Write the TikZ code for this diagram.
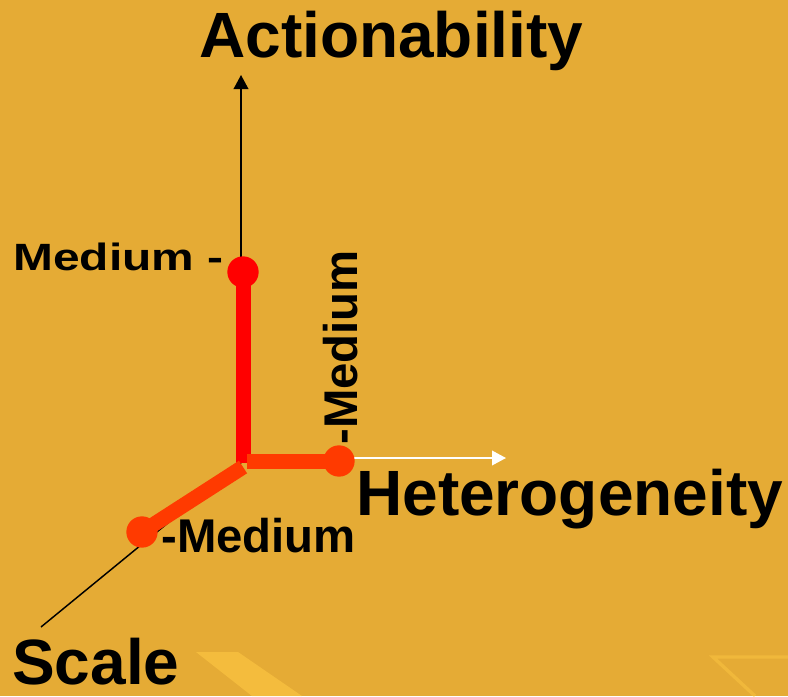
\documentclass[tikz,border=0pt]{standalone}
\usepackage{fontspec}
\setmainfont{Liberation Sans}
\usepackage{xcolor}
\usetikzlibrary{arrows.meta}

\definecolor{bgGold}{HTML}{E5AB35}
\definecolor{hiGold}{HTML}{FFC843}
\definecolor{vivRed}{HTML}{FF0000}
\definecolor{vivOrange}{HTML}{FF3A00}

\begin{document}
\begin{tikzpicture}[x=0.75pt,y=-0.75pt,
    axis/.style={line width=1.1pt,-{Triangle[length=10.5pt,width=11pt]}},
    bar/.style={line width=11.25pt,line cap=butt},
    dot/.style={circle,inner sep=0pt,minimum size=23.5pt},
    big/.style={font=\bfseries\fontsize{48}{50}\selectfont,inner sep=0pt},
    small/.style={font=\bfseries\fontsize{35.5}{38}\selectfont,inner sep=0pt}]
    % background
    \fill[bgGold] (0,0) rectangle (788,696);
    \useasboundingbox (0,0) rectangle (788,696);
    \fill[hiGold,opacity=0.6] (196,652) -- (238,652) -- (302,696) -- (252,696) -- cycle;
    \draw[hiGold,opacity=0.45,line width=2.5pt] (788,657) -- (713,657) -- (755,696);

    % axes
    \coordinate (O) at (241,463);
    \coordinate (actEnd) at (241,75);
    \coordinate (scaEnd) at (41,627);
    \coordinate (hetStart) at (250,458);
    \coordinate (hetEnd) at (506,458);
    \draw[axis] (O) -- (actEnd);
    \draw[line width=1.1pt] (O) -- (scaEnd);
    \draw[axis,white] (hetStart) -- (hetEnd);

    % medium values
    \node[dot,fill=vivRed] (actMed) at (243,272) {};
    \node[dot,fill=vivOrange] (hetMed) at (339,461) {};
    \node[dot,fill=vivOrange] (scaMed) at (142,532) {};
    \coordinate (actFoot) at (243,463);
    \coordinate (hetFoot) at (247,461);
    \coordinate (scaFoot) at (243,467);
    \draw[bar,vivRed] (actMed.center) -- (actFoot);
    \draw[bar,vivOrange] (hetFoot) -- (hetMed.center);
    \draw[bar,vivOrange] (scaFoot) -- (scaMed.center);

    % labels
    \node[big,anchor=base west] (actLbl) at (199,57) {Actionability};
    \node[big,anchor=base west] (hetLbl) at (356,515) {Heterogeneity};
    \node[big,anchor=base west] (scaLbl) at (12,684) {Scale};
    \node[small,anchor=base west,font=\bfseries\fontsize{28.5}{30}\selectfont] (actMedLbl) at (13,270) {\scalebox{1.26}[1]{Medium -}};
    \node[small,anchor=base west] (scaMedLbl) at (161,552) {-Medium};
    \node[small,anchor=base west,rotate=90] (hetMedLbl) at (357,445) {-Medium};
\end{tikzpicture}
\end{document}
